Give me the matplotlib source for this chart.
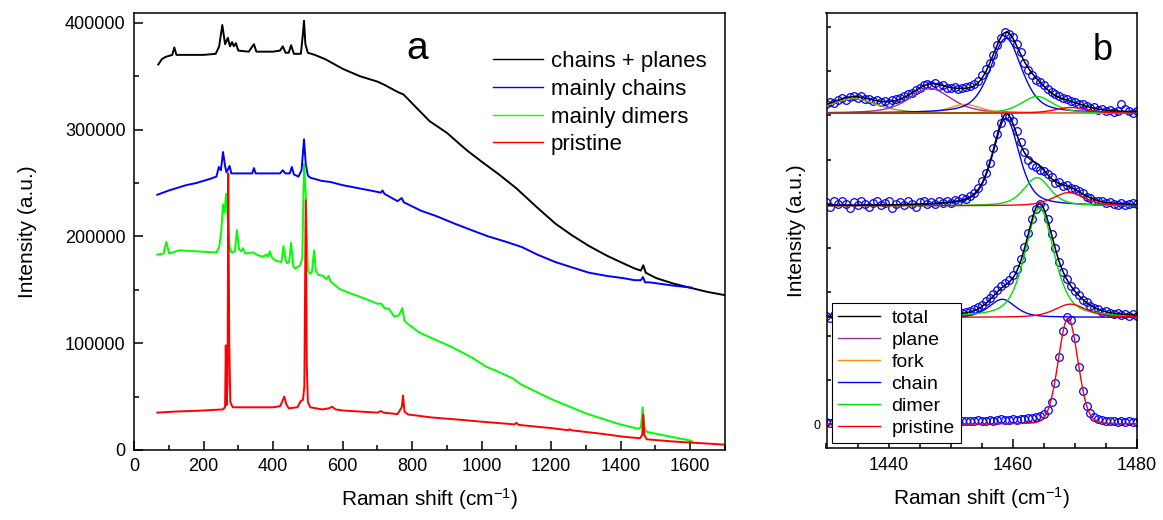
import numpy as np
import matplotlib
matplotlib.use('Agg')
import matplotlib.pyplot as plt
from matplotlib.ticker import MultipleLocator, FixedLocator

plt.rcParams['font.family'] = ['Liberation Sans', 'DejaVu Sans']
plt.rcParams['mathtext.default'] = 'regular'

# ---------------- panel a : full spectra (cm-1, intensity in thousands) ----------------
cp_x = [70, 80, 90, 100, 110, 116, 122, 150, 200, 235, 245, 254, 262, 270, 276, 282, 287, 293, 300,
        330, 345, 352, 400, 420, 428, 436, 445, 452, 460, 480, 486, 489, 493, 500, 520, 550, 600, 650,
        700, 720, 760, 775, 790, 826, 850, 900, 942, 960, 1000, 1050, 1100, 1120, 1160, 1212, 1260,
        1309, 1360, 1406, 1440, 1458, 1465, 1472, 1502, 1550, 1599, 1650, 1700]
cp_y = [361, 366, 368, 369, 370, 377, 370, 370, 370, 371, 378, 398, 380, 386, 378, 382, 378, 381, 374,
        373, 380, 373, 373, 374, 378, 372, 372, 379, 371, 371, 390, 402, 380, 372, 370, 366, 357, 350,
        345, 342, 335, 333, 328, 316, 308, 297, 285, 280, 270, 258, 245, 239, 227, 212, 201,
        191, 182, 175, 170, 168, 173, 166, 161, 156, 152, 148, 145]

ch_x = [67, 100, 150, 179, 220, 237, 244, 250, 256, 262, 266, 275, 280, 300, 340, 345, 350, 400, 420,
        428, 435, 448, 454, 460, 473, 482, 489, 494, 500, 507, 540, 565, 600, 632, 680, 710, 715, 720,
        758, 770, 776, 826, 870, 922, 970, 1019, 1070, 1116, 1160, 1212, 1260, 1309, 1360, 1406, 1440,
        1458, 1464, 1470, 1483, 1550, 1605]
ch_y = [239, 243, 248, 250, 254, 256, 265, 262, 279, 266, 260, 266, 259, 259, 259, 264, 259, 259, 259,
        262, 259, 259, 265, 258, 256, 262, 291, 268, 257, 255, 252, 251, 248, 246, 243, 241, 243, 240,
        233, 236, 232, 224, 219, 212, 206, 200, 195, 190, 183, 176, 171, 166, 163, 161, 159,
        159, 162, 157, 157, 154, 152]

di_x = [67, 85, 93, 101, 130, 180, 237, 245, 251, 256, 260, 265, 270, 275, 280, 290, 296, 302, 308,
        313, 320, 341, 360, 371, 380, 385, 391, 397, 401, 410, 424, 430, 436, 440, 446, 452, 458, 464,
        478, 484, 489, 494, 500, 507, 512, 518, 523, 530, 545, 553, 560, 565, 572, 590, 620, 662, 700,
        712, 720, 734, 748, 762, 772, 778, 788, 821, 855, 917, 975, 1013, 1050, 1090, 1110, 1160,
        1205, 1250, 1302, 1350, 1398, 1450, 1458, 1463, 1468, 1475, 1520, 1551, 1599, 1605]
di_y = [183, 184, 195, 184, 187, 186, 185, 190, 205, 230, 222, 240, 215, 190, 185, 186, 206, 188, 186,
        189, 184, 185, 182, 181, 183, 181, 186, 180, 179, 177, 176, 191, 178, 175, 176, 194, 172, 170,
        173, 180, 268, 240, 168, 165, 167, 187, 168, 164, 163, 160, 163, 158, 156, 151, 147, 142, 137,
        137, 133, 132, 125, 126, 133, 121, 118, 110, 105, 96, 86, 78, 73, 67, 62, 54,
        47, 41, 34, 29, 24, 20, 21, 40, 20, 17, 14, 12, 9, 8]

pr_x = [67, 120, 200, 255, 262, 264, 266, 269, 271, 274, 277, 284, 300, 350, 400, 420, 426, 432, 438,
        445, 470, 480, 486, 490, 494, 497, 500, 507, 541, 560, 570, 580, 600, 650, 700, 710, 718, 758,
        770, 774, 778, 788, 855, 950, 1000, 1095, 1100, 1106, 1200, 1250, 1253, 1258, 1350, 1406,
        1455, 1462, 1465, 1468, 1475, 1550, 1600, 1650, 1700]
pr_y = [35, 36, 37, 38, 40, 98, 42, 60, 259, 100, 45, 40, 40, 40, 40, 41, 45, 50, 43,
        39, 40, 46, 47, 60, 234, 80, 45, 40, 38, 39, 40.5, 38, 37, 36, 35, 36.5, 35, 33.6,
        40, 51, 36, 33.3, 30.5, 28, 26.5, 24, 25.5, 23.5, 20.5, 18.5, 19.5, 18.5, 15, 12.5,
        11, 14, 33, 14, 10, 8, 7, 6, 5]

# ---------------- panel b : 1430-1480 cm-1 region ----------------
B_START, B_STEP = 1430.0, 0.625
b_offsets = [7.05, 4.95, 2.42, 0.0]

# observed points (relative to each trace's baseline)
obs_cp = [.22, .25, .24, .30, .34, .31, .37, .39, .35, .38, .32, .33, .27, .30, .25, .27,
          .24, .29, .33, .35, .40, .44, .47, .53, .58, .63, .67, .65, .68, .62, .64, .58,
          .57, .60, .55, .58, .60, .62, .66, .74, .86, 1.00, 1.15, 1.33, 1.55, 1.70, 1.84, 1.80,
          1.72, 1.58, 1.38, 1.15, .98, .86, .76, .70, .63, .55, .48, .43, .40, .34, .33, .27,
          .26, .20, .21, .17, .12, .13, .08, .10, .05, .08, .03, .06, .20, .09, .05, .01, .04]
obs_ch = [.08, -.02, .10, .03, .12, .05, -.04, .09, .02, .11, .04, -.03, .07, .12, .01, .06,
          .10, -.05, .04, .09, .02, .11, .05, -.02, .08, .12, .04, .09, .03, .10, .06, .12,
          .07, .13, .10, .17, .15, .22, .30, .41, .56, .74, .98, 1.30, 1.62, 1.88, 2.05, 2.02,
          1.92, 1.70, 1.45, 1.22, 1.05, .92, .88, .82, .80, .72, .65, .52, .55, .46, .47, .40,
          .37, .33, .28, .20, .18, .12, .10, .11, .06, .09, .04, .02, .06, .01, .05, .07, .03]
obs_di = [.03, -.02, .05, .00, .04, .02, -.03, .05, .01, .03, -.01, .04, .02, .06, .00, .03,
          .05, .01, .04, .02, .06, .00, .05, .03, .01, .06, .04, .02, .07, .05, .03, .08,
          .06, .09, .07, .11, .13, .15, .19, .24, .29, .36, .44, .52, .62, .70, .78, .85,
          .95, 1.10, 1.32, 1.60, 1.92, 2.22, 2.45, 2.56, 2.50, 2.24, 1.90, 1.58, 1.26, 1.04, .86, .72,
          .60, .50, .40, .34, .25, .21, .19, .13, .14, .09, .07, .10, .05, .08, .04, .07, .03]
obs_pr = [.04, .02, .05, .03, .01, .04, .02, .05, .03, .06, .02, .04, .03, .05, .02, .06,
          .03, .05, .04, .02, .06, .04, .05, .03, .06, .04, .07, .05, .06, .04, .07, .05,
          .06, .08, .05, .07, .06, .08, .07, .09, .07, .08, .10, .08, .09, .11, .10, .09,
          .11, .10, .12, .11, .13, .14, .16, .18, .22, .31, .50, .92, 1.52, 2.12, 2.42, 2.36,
          1.95, 1.30, .76, .42, .25, .16, .11, .09, .07, .08, .06, .05, .07, .04, .06, .05, .04]

# fitted components: (kind, centre, height, fwhm, lorentz fraction)
fit_cp = [('extra', 1434.3, 0.33, 9.0, 0.5), ('plane', 1446.7, 0.56, 8.0, 0.5),
          ('fork', 1452.3, 0.20, 6.0, 0.5), ('chain', 1458.9, 1.70, 6.0, 0.5),
          ('dimer', 1463.9, 0.38, 6.0, 0.5), ('pristine', 1469.3, 0.13, 6.0, 0.5)]
fit_ch = [('chain', 1458.9, 1.99, 5.0, 0.5), ('dimer', 1463.9, 0.64, 5.0, 0.5),
          ('pristine', 1469.0, 0.30, 6.0, 0.5)]
fit_di = [('chain', 1458.3, 0.41, 5.0, 0.5), ('dimer', 1464.3, 2.48, 5.5, 0.5),
          ('pristine', 1469.3, 0.30, 6.0, 0.5)]
fit_pr = [('pristine', 1468.9, 2.40, 3.7, 0.1)]

comp_colors = {'extra': '#9a9a30', 'plane': '#a030a0', 'fork': '#ff8c1a',
               'chain': '#0000ff', 'dimer': '#00e000', 'pristine': '#ff0000'}


def pvoigt(x, c, h, w, eta):
    d = (x - c) / w
    return h * (eta / (1.0 + 4.0 * d ** 2) + (1 - eta) * np.exp(-4.0 * np.log(2) * d ** 2))


fig = plt.figure(figsize=(11.63, 5.2), dpi=100)
ax = fig.add_axes([134 / 1163, 70 / 520, 591 / 1163, 437.3 / 520])
axb = fig.add_axes([826.5 / 1163, 71.7 / 520, 310.5 / 1163, 435.6 / 520])

# ---- panel a
for xs, ys, col, lab in [(cp_x, cp_y, 'black', 'chains + planes'),
                         (ch_x, ch_y, '#0000ff', 'mainly chains'),
                         (di_x, di_y, '#00ff00', 'mainly dimers'),
                         (pr_x, pr_y, '#ff0000', 'pristine')]:
    ax.plot(xs, np.array(ys) * 1000, color=col, lw=1.4, label=lab)

ax.set_xlim(0, 1700)
ax.set_ylim(0, 409500)
ax.xaxis.set_major_locator(MultipleLocator(200))
ax.xaxis.set_minor_locator(MultipleLocator(100))
ax.yaxis.set_major_locator(MultipleLocator(100000))
ax.yaxis.set_minor_locator(MultipleLocator(50000))
ax.ticklabel_format(axis='y', style='plain')
ax.set_xlabel('Raman shift (cm$^{-1}$)', fontsize=15, labelpad=8)
ax.set_ylabel('Intensity (a.u.)', fontsize=15, labelpad=20)
ax.text(0.48, 0.917, 'a', transform=ax.transAxes, fontsize=28, ha='center', va='center')
leg = ax.legend(loc='upper left', bbox_to_anchor=(0.607, 0.912), frameon=False, fontsize=16,
                borderpad=0, borderaxespad=0, handlelength=2.25, handletextpad=0.36, labelspacing=0.3)
for h in leg.get_lines():
    h.set_linewidth(1.0)

# ---- panel b
xf = np.linspace(1430, 1480, 801)
xo = B_START + B_STEP * np.arange(len(obs_cp))
traces = [(obs_cp, fit_cp, True), (obs_ch, fit_ch, True), (obs_di, fit_di, True), (obs_pr, fit_pr, False)]
for (obs, fit, show_total), off in zip(traces, b_offsets):
    axb.plot(xo, np.array(obs) + off, 'o', ms=5.5, mfc='none', mec='#0000ff', mew=0.9, zorder=2)
    total = np.zeros_like(xf)
    for kind, c, h, w, eta in fit:
        comp = pvoigt(xf, c, h, w, eta)
        total += comp
        zo = 3.5 if kind == 'pristine' else 3
        axb.plot(xf, comp + off, color=comp_colors[kind], lw=1.0, zorder=zo)
    if show_total:
        axb.plot(xf, total + off, color='black', lw=1.1, zorder=4)

handles = [plt.Line2D([], [], color='black', lw=1.0)]
handles += [plt.Line2D([], [], color=comp_colors[k], lw=1.0)
            for k in ['plane', 'fork', 'chain', 'dimer', 'pristine']]
legb = axb.legend(handles, ['total', 'plane', 'fork', 'chain', 'dimer', 'pristine'],
                  loc='lower left', bbox_to_anchor=(0.017, 0.012), borderaxespad=0, fontsize=14,
                  handlelength=2.2, handletextpad=0.57, labelspacing=0.23, borderpad=0.3,
                  fancybox=False, framealpha=1, edgecolor='black')
legb.get_frame().set_linewidth(0.8)
legb.set_zorder(10)

axb.set_xlim(1430, 1480)
axb.set_ylim(-0.55, 9.33)
axb.xaxis.set_major_locator(MultipleLocator(20))
axb.xaxis.set_minor_locator(MultipleLocator(5))
axb.yaxis.set_major_locator(FixedLocator(range(10)))
axb.set_yticklabels(['0'] + [''] * 9)
axb.set_xlabel('Raman shift (cm$^{-1}$)', fontsize=15, labelpad=8)
axb.set_ylabel('Intensity (a.u.)', fontsize=15, labelpad=6)
axb.text(0.891, 0.914, 'b', transform=axb.transAxes, fontsize=26, ha='center', va='center')

for a in (ax, axb):
    for s in a.spines.values():
        s.set_linewidth(1.1)
    a.tick_params(which='both', direction='in', top=False, right=False, width=1.1, labelsize=13)
    a.tick_params(which='major', length=6.5, pad=6)
    a.tick_params(which='minor', length=3.5)
axb.tick_params(axis='y', which='major', length=3, labelsize=9, pad=4)

fig.savefig('out.png', dpi=100)
